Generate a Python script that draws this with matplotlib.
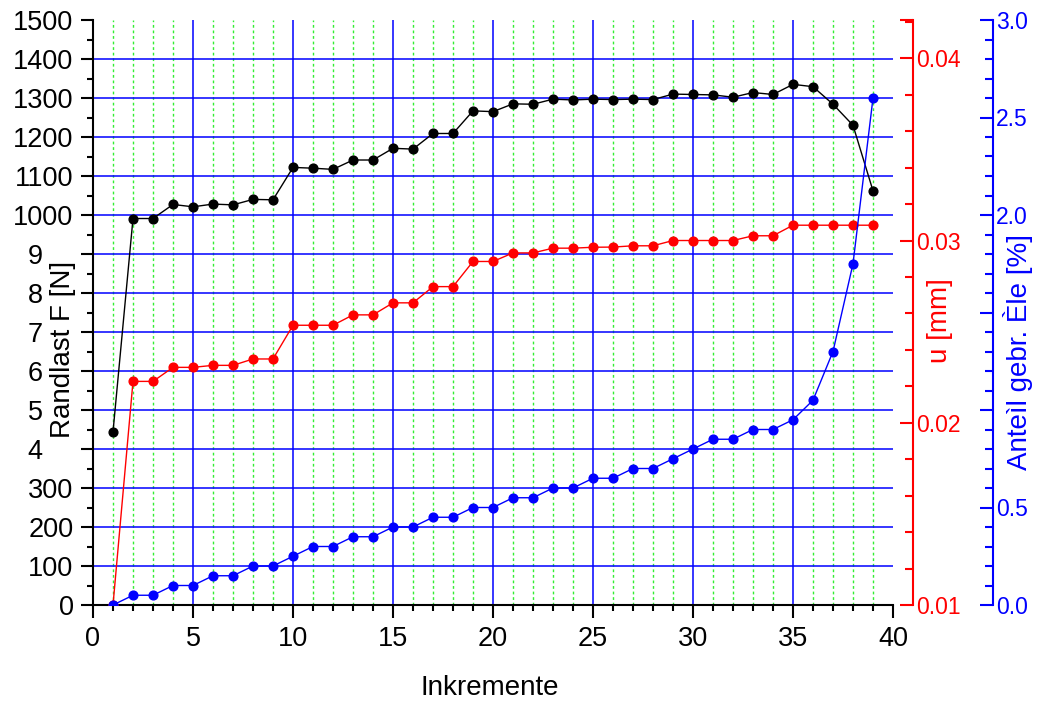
"""Randlast, Verschiebung und Anteil gebrochener Elemente ueber die Inkremente."""
import matplotlib

matplotlib.use("Agg")
import matplotlib.pyplot as plt
from matplotlib.ticker import FixedFormatter, FixedLocator, MultipleLocator

plt.rcParams["font.family"] = ["Liberation Sans", "DejaVu Sans"]

# values
inkremente = list(range(1, 40))
randlast_n = [444, 991, 991, 1027, 1021, 1028, 1026, 1040, 1039, 1122,
              1120, 1117, 1141, 1141, 1171, 1169, 1209, 1209, 1267, 1265,
              1285, 1284, 1297, 1295, 1297, 1296, 1297, 1296, 1310, 1309,
              1308, 1302, 1314, 1309, 1335, 1329, 1284, 1230, 1062]
u_mm = [0.0100, 0.02227, 0.02227, 0.02304, 0.02304, 0.02315, 0.02315,
        0.02350, 0.02350, 0.02535, 0.02535, 0.02535, 0.02592, 0.02592,
        0.02658, 0.02658, 0.02747, 0.02747, 0.02885, 0.02885, 0.02932,
        0.02932, 0.02958, 0.02958, 0.02963, 0.02964, 0.02971, 0.02971,
        0.03000, 0.03000, 0.03000, 0.03000, 0.03026, 0.03026, 0.03084,
        0.03084, 0.03084, 0.03084, 0.03084]
anteil_pct = [0.0, 0.05, 0.05, 0.10, 0.10, 0.15, 0.15, 0.20, 0.20, 0.25,
              0.30, 0.30, 0.35, 0.35, 0.40, 0.40, 0.45, 0.45, 0.50, 0.50,
              0.55, 0.55, 0.60, 0.60, 0.65, 0.65, 0.70, 0.70, 0.75, 0.80,
              0.85, 0.85, 0.90, 0.90, 0.95, 1.05, 1.30, 1.75, 2.60]

# in the reference the "00" of 400..900 is covered by the axis title,
# figure spaces keep the leading digit where it was
FS = "\u2007"
f_ticks = list(range(0, 1501, 100))
f_ticklabels = ["0", "100", "200", "300"] + \
    [d + FS * 2 for d in "456789"] + \
    ["1000", "1100", "1200", "1300", "1400", "1500"]
u_ticks = [0.01, 0.02, 0.03, 0.04, 0.0421]
u_ticklabels = ["0.01", "0.02", "0.03", "0.04", ""]
p_ticks = [0.0, 0.5, 1.0, 1.5, 2.0, 2.5, 3.0]
p_ticklabels = ["0.0", "0.5", "", "", "2.0", "2.5", "3.0"]

BLUE = "#0000ff"
RED = "#ff0000"
GREEN = "#33ee33"

fig = plt.figure(figsize=(10.41, 7.04), dpi=100)
ax = fig.add_axes([93 / 1041, 99 / 704, 800 / 1041, 585 / 704])
ax_u = ax.twinx()
ax_p = ax.twinx()

# grid: green dotted every increment, blue every 5 / every 100 N
for x in range(1, 40):
    if x % 5:
        ax.axvline(x, color=GREEN, lw=1.0, ls=(0, (2, 2)), zorder=0)
    else:
        ax.axvline(x, color=BLUE, lw=1.1, zorder=0)
for y in f_ticks[1:-1]:
    ax.axhline(y, color=BLUE, lw=1.1, zorder=0)

mk = dict(marker="o", ms=6.3, lw=1.0)
ax.plot(inkremente, randlast_n, color="black", **mk)
ax_u.plot(inkremente, u_mm, color=RED, **mk)
ax_p.plot(inkremente, anteil_pct, color=BLUE, **mk)

# left / bottom axes
ax.set_xlim(0, 40)
ax.set_ylim(0, 1500)
ax.xaxis.set_major_locator(MultipleLocator(5))
ax.xaxis.set_minor_locator(MultipleLocator(1))
ax.yaxis.set_major_locator(FixedLocator(f_ticks))
ax.yaxis.set_major_formatter(FixedFormatter(f_ticklabels))
ax.yaxis.set_minor_locator(MultipleLocator(50))
ax.tick_params(which="both", direction="out", width=1.5, labelsize=19.5)
ax.tick_params(which="major", length=9)
ax.tick_params(which="minor", length=4.5)
ax.tick_params(axis="y", pad=5)
ax.tick_params(axis="x", pad=6)
for s in ("top", "right"):
    ax.spines[s].set_visible(False)
for s in ("left", "bottom"):
    ax.spines[s].set_linewidth(1.5)

# red axis u [mm]
ax_u.set_ylim(0.01, 0.0421)
ax_u.yaxis.set_major_locator(FixedLocator(u_ticks))
ax_u.yaxis.set_major_formatter(FixedFormatter(u_ticklabels))
ax_u.yaxis.set_minor_locator(MultipleLocator(0.002))
ax_u.spines["right"].set_position(("axes", 1.025))
ax_u.spines["right"].set_color(RED)
ax_u.spines["right"].set_linewidth(1.5)
ax_u.tick_params(which="both", direction="in", color=RED, labelcolor=RED,
                 width=1.5, labelsize=16.5, pad=2)
ax_u.tick_params(which="major", length=9.5)
ax_u.tick_params(which="minor", length=6)

# blue axis Anteil [%]
ax_p.set_ylim(0, 3.0)
ax_p.yaxis.set_major_locator(FixedLocator(p_ticks))
ax_p.yaxis.set_major_formatter(FixedFormatter(p_ticklabels))
ax_p.yaxis.set_minor_locator(MultipleLocator(0.1))
ax_p.spines["right"].set_position(("axes", 1.125))
ax_p.spines["right"].set_color(BLUE)
ax_p.spines["right"].set_linewidth(1.5)
ax_p.tick_params(which="both", direction="in", color=BLUE, labelcolor=BLUE,
                 width=1.5, labelsize=16.5, pad=2)
ax_p.tick_params(which="major", length=9.5)
ax_p.tick_params(which="minor", length=6)

for a in (ax_u, ax_p):
    for s in ("top", "left", "bottom"):
        a.spines[s].set_visible(False)

# axis titles placed where the reference puts them
lbl = dict(transform=ax.transAxes, ha="center", va="center", fontsize=20,
           clip_on=False)
ax.text(-0.037, 0.437, "Randlast F [N]", rotation=90, **lbl)
ax.text(0.496, -0.142, "Inkremente", **lbl)
ax.text(1.059, 0.487, "u [mm]", rotation=90, color=RED, **lbl)
ax.text(1.156, 0.433, "Anteìl gebr. Èle [%]", rotation=90, color=BLUE, **lbl)

fig.savefig("out.png", dpi=100)
